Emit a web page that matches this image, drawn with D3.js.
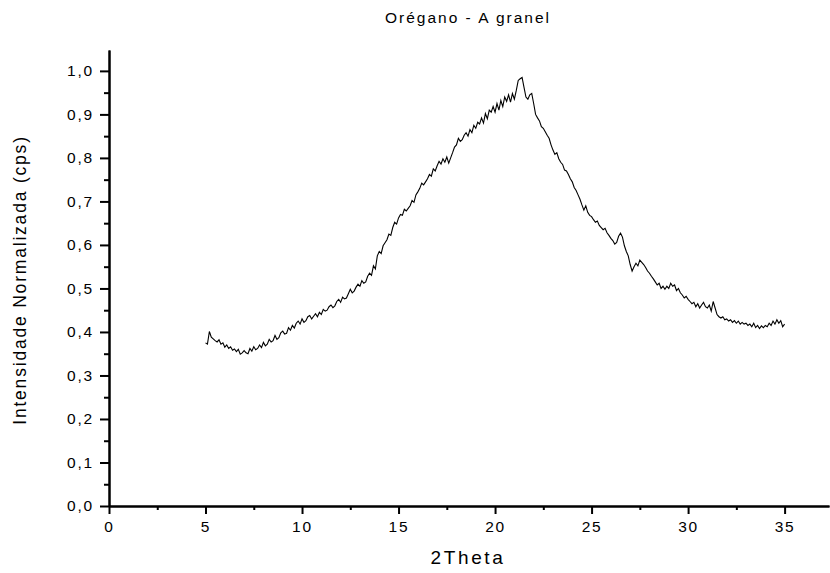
<!DOCTYPE html>
<html>
<head>
<meta charset="utf-8">
<script src="https://cdn.jsdelivr.net/npm/d3@7"></script>
<style>
  body { margin: 0; background: #fff; }
  svg { display: block; }
  text { font-family: "Liberation Sans", Arial, sans-serif; fill: #000; }
</style>
</head>
<body>
<svg id="chart" width="830" height="573"></svg>
<script>
const titleText = "Orégano - A granel";
const xLabel = "2Theta";
const yLabel = "Intensidade Normalizada (cps)";
const xTicks = [0, 5, 10, 15, 20, 25, 30, 35];
const xMinorTicks = [2.5, 7.5, 12.5, 17.5, 22.5, 27.5, 32.5];
const yTicks = [0, 0.1, 0.2, 0.3, 0.4, 0.5, 0.6, 0.7, 0.8, 0.9, 1.0];
const yMinorTicks = [0.05, 0.15, 0.25, 0.35, 0.45, 0.55, 0.65, 0.75, 0.85, 0.95];
// scan start / step (2Theta grid of the measurement)
const scanStart = 5.0;
const scanStep = 0.1;
// normalised intensity, one row per degree (5.0 ... 35.0)
const intensity = [
  0.375, 0.372, 0.401, 0.388, 0.384, 0.380, 0.377, 0.382, 0.372, 0.375,
  0.365, 0.370, 0.362, 0.366, 0.358, 0.361, 0.355, 0.360, 0.349, 0.352,
  0.357, 0.352, 0.350, 0.362, 0.356, 0.366, 0.359, 0.362, 0.370, 0.364,
  0.376, 0.368, 0.372, 0.383, 0.377, 0.380, 0.392, 0.383, 0.387, 0.398,
  0.402, 0.395, 0.397, 0.410, 0.404, 0.415, 0.409, 0.420, 0.425, 0.418,
  0.430, 0.422, 0.426, 0.435, 0.438, 0.430, 0.436, 0.442, 0.435, 0.445,
  0.440, 0.452, 0.448, 0.450, 0.458, 0.462, 0.456, 0.460, 0.470, 0.475,
  0.468, 0.480, 0.476, 0.478, 0.488, 0.498, 0.490, 0.494, 0.503, 0.510,
  0.505, 0.518, 0.512, 0.515, 0.528, 0.535, 0.530, 0.552, 0.545, 0.575,
  0.585, 0.580, 0.598, 0.605, 0.612, 0.625, 0.622, 0.640, 0.652, 0.648,
  0.662, 0.670, 0.668, 0.682, 0.678, 0.684, 0.690, 0.702, 0.698, 0.715,
  0.722, 0.730, 0.742, 0.738, 0.745, 0.752, 0.762, 0.758, 0.775, 0.770,
  0.782, 0.792, 0.786, 0.798, 0.790, 0.802, 0.788, 0.800, 0.812, 0.825,
  0.830, 0.845, 0.838, 0.842, 0.852, 0.858, 0.850, 0.865, 0.858, 0.875,
  0.868, 0.882, 0.878, 0.892, 0.880, 0.902, 0.890, 0.910, 0.905, 0.918,
  0.905, 0.925, 0.910, 0.932, 0.918, 0.940, 0.930, 0.945, 0.928, 0.948,
  0.935, 0.955, 0.978, 0.982, 0.985, 0.962, 0.940, 0.935, 0.945, 0.948,
  0.925, 0.900, 0.892, 0.885, 0.872, 0.868, 0.860, 0.852, 0.845, 0.830,
  0.818, 0.808, 0.812, 0.798, 0.790, 0.785, 0.772, 0.770, 0.762, 0.752,
  0.745, 0.732, 0.725, 0.715, 0.705, 0.692, 0.680, 0.690, 0.675, 0.668,
  0.665, 0.658, 0.652, 0.655, 0.645, 0.640, 0.635, 0.638, 0.628, 0.622,
  0.615, 0.610, 0.602, 0.606, 0.620, 0.627, 0.618, 0.598, 0.585, 0.575,
  0.555, 0.540, 0.550, 0.558, 0.552, 0.565, 0.560, 0.555, 0.548, 0.540,
  0.535, 0.528, 0.522, 0.515, 0.508, 0.512, 0.500, 0.505, 0.498, 0.505,
  0.500, 0.512, 0.505, 0.508, 0.495, 0.500, 0.490, 0.485, 0.478, 0.482,
  0.475, 0.470, 0.465, 0.468, 0.458, 0.465, 0.455, 0.462, 0.468, 0.458,
  0.455, 0.462, 0.448, 0.470, 0.455, 0.440, 0.435, 0.432, 0.435, 0.428,
  0.430, 0.425, 0.428, 0.422, 0.426, 0.420, 0.425, 0.418, 0.422, 0.418,
  0.420, 0.415, 0.418, 0.412, 0.420, 0.410, 0.415, 0.408, 0.414, 0.410,
  0.415, 0.412, 0.420, 0.415, 0.425, 0.418, 0.428, 0.420, 0.426, 0.412,
  0.418
];

const svg = d3.select("#chart");
const mLeft = 109, mRight = 829, mTop = 50, mBottom = 506;
const x = d3.scaleLinear().domain([0, 37.3]).range([mLeft, mRight]);
const y = d3.scaleLinear().domain([0, 1.048]).range([mBottom, mTop]);
const fmt = d => d3.format(".1f")(d).replace(".", ",");

const data = intensity.map((v, i) => ({ t: scanStart + i * scanStep, v }));

// X axis
const gx = svg.append("g").attr("transform", `translate(0,${mBottom})`);
gx.call(d3.axisBottom(x).tickValues(xTicks).tickFormat(d3.format("d")).tickSize(8).tickSizeOuter(0).tickPadding(7));
gx.append("g").call(d3.axisBottom(x).tickValues(xMinorTicks).tickFormat("").tickSize(4).tickSizeOuter(0));
// Y axis
const gy = svg.append("g").attr("transform", `translate(${mLeft},0)`);
gy.call(d3.axisLeft(y).tickValues(yTicks).tickFormat(fmt).tickSize(9).tickSizeOuter(0).tickPadding(6));
gy.append("g").call(d3.axisLeft(y).tickValues(yMinorTicks).tickFormat("").tickSize(5).tickSizeOuter(0));

svg.selectAll(".domain").attr("stroke", "#000").attr("stroke-width", 2);
svg.selectAll(".tick line").attr("stroke", "#000").attr("stroke-width", 2);
svg.selectAll(".tick text").attr("font-size", 15.5).attr("letter-spacing", "1.8px")
   .attr("font-family", "Liberation Sans, Arial, sans-serif").attr("fill", "#000");

// curve
svg.append("path").datum(data)
  .attr("fill", "none").attr("stroke", "#000").attr("stroke-width", 1.1)
  .attr("d", d3.line().x(d => x(d.t)).y(d => y(d.v)));

// labels
svg.append("text").attr("x", 468).attr("y", 23).attr("text-anchor", "middle")
  .attr("font-size", 15.5).attr("letter-spacing", "2px").text(titleText);
svg.append("text").attr("x", 468).attr("y", 564).attr("text-anchor", "middle")
  .attr("font-size", 19).attr("letter-spacing", "2.6px").text(xLabel);
svg.append("text").attr("transform", `translate(26,${(mTop + mBottom) / 2 + 2}) rotate(-90)`)
  .attr("text-anchor", "middle").attr("font-size", 17.5).attr("letter-spacing", "1.8px").text(yLabel);
</script>
</body>
</html>
